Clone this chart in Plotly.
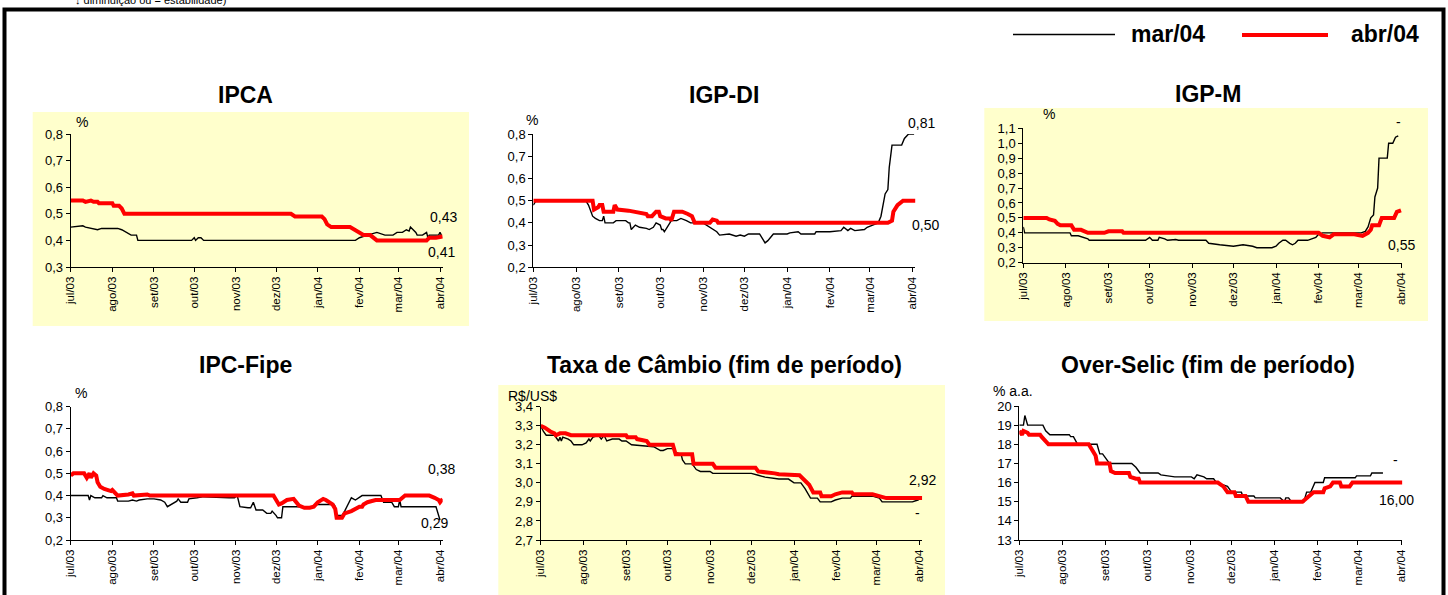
import plotly.graph_objects as go
from datetime import date

W, H = 1448, 595

months = ["2003-07-01", "2003-08-01", "2003-09-01", "2003-10-01", "2003-11-01",
          "2003-12-01", "2004-01-01", "2004-02-01", "2004-03-01", "2004-04-01"]
month_labels = ["jul/03", "ago/03", "set/03", "out/03", "nov/03",
                "dez/03", "jan/04", "fev/04", "mar/04", "abr/04"]

series_names = ["mar/04", "abr/04"]

# ---------------- IPCA ----------------
ipca_mar_d = ["2003-07-01", "2003-07-10", "2003-07-12", "2003-07-21", "2003-07-24", "2003-08-05", "2003-08-08",
              "2003-08-11", "2003-08-15", "2003-08-19", "2003-08-20", "2003-09-29", "2003-10-01", "2003-10-02",
              "2003-10-04", "2003-10-06", "2003-10-08", "2004-01-29", "2004-02-01", "2004-02-07", "2004-02-14",
              "2004-02-20", "2004-02-26", "2004-02-29", "2004-03-04", "2004-03-07", "2004-03-09", "2004-03-10",
              "2004-03-14", "2004-03-15", "2004-03-19", "2004-03-22", "2004-03-23", "2004-03-24", "2004-03-31",
              "2004-04-01", "2004-04-02"]
ipca_mar_v = [0.45, 0.455, 0.45, 0.44, 0.445, 0.445, 0.44,
              0.43, 0.42, 0.42, 0.40, 0.40, 0.41, 0.40,
              0.41, 0.41, 0.40, 0.40, 0.41, 0.42, 0.43,
              0.42, 0.42, 0.43, 0.43, 0.44, 0.435, 0.45,
              0.43, 0.42, 0.42, 0.43, 0.41, 0.42, 0.42,
              0.43, 0.42]
ipca_abr_d = ["2003-07-01", "2003-07-10", "2003-07-12", "2003-07-16", "2003-07-18", "2003-07-21", "2003-07-22",
              "2003-08-01", "2003-08-02", "2003-08-06", "2003-08-08", "2003-08-10", "2003-12-12", "2003-12-15",
              "2004-01-04", "2004-01-06", "2004-01-08", "2004-01-11", "2004-01-25", "2004-01-28", "2004-02-01",
              "2004-02-04", "2004-02-09", "2004-02-12", "2004-02-14", "2004-03-22", "2004-03-24", "2004-03-29",
              "2004-04-03"]
ipca_abr_v = [0.55, 0.55, 0.545, 0.55, 0.545, 0.545, 0.54,
              0.54, 0.53, 0.53, 0.52, 0.50, 0.50, 0.49,
              0.49, 0.48, 0.46, 0.45, 0.45, 0.44, 0.43,
              0.42, 0.42, 0.41, 0.40, 0.40, 0.41, 0.41,
              0.415]

# ---------------- IGP-DI ----------------
igpdi_mar_d = ["2003-07-01", "2003-07-03", "2003-08-08", "2003-08-10", "2003-08-13", "2003-08-15", "2003-08-18",
               "2003-08-20", "2003-08-21", "2003-08-22", "2003-08-28", "2003-08-30", "2003-09-06", "2003-09-08",
               "2003-09-09", "2003-09-10", "2003-09-13", "2003-09-16", "2003-09-21", "2003-09-23", "2003-09-26",
               "2003-09-28", "2003-10-01", "2003-10-02", "2003-10-03", "2003-10-04", "2003-10-06", "2003-10-07",
               "2003-10-09", "2003-10-13", "2003-10-16", "2003-10-20", "2003-10-23", "2003-11-01", "2003-11-06",
               "2003-11-11", "2003-11-13", "2003-11-20", "2003-11-25", "2003-11-28", "2003-12-01", "2003-12-04",
               "2003-12-12", "2003-12-15", "2003-12-16", "2003-12-18", "2003-12-22", "2004-01-01", "2004-01-03",
               "2004-01-09", "2004-01-11", "2004-01-21", "2004-01-22", "2004-02-01", "2004-02-09", "2004-02-11",
               "2004-02-14", "2004-02-16", "2004-02-19", "2004-02-26", "2004-02-28", "2004-03-03", "2004-03-07",
               "2004-03-09", "2004-03-12", "2004-03-14", "2004-03-15", "2004-03-17", "2004-03-24", "2004-03-26",
               "2004-03-29", "2004-04-02"]
igpdi_mar_v = [0.48, 0.50, 0.50, 0.48, 0.43, 0.42, 0.41,
               0.41, 0.43, 0.40, 0.40, 0.41, 0.41, 0.40,
               0.40, 0.37, 0.39, 0.38, 0.375, 0.37, 0.38,
               0.40, 0.39, 0.37, 0.37, 0.36, 0.38, 0.39,
               0.41, 0.41, 0.42, 0.41, 0.40, 0.40, 0.38,
               0.36, 0.345, 0.35, 0.34, 0.345, 0.34, 0.35,
               0.35, 0.32, 0.31, 0.32, 0.35, 0.35, 0.355,
               0.36, 0.35, 0.35, 0.36, 0.36, 0.365, 0.38,
               0.365, 0.375, 0.365, 0.37, 0.38, 0.39, 0.40,
               0.43, 0.53, 0.55, 0.65, 0.75, 0.75, 0.78,
               0.80, 0.80]
igpdi_abr_d = ["2003-07-01", "2003-08-13", "2003-08-14", "2003-08-17", "2003-08-18", "2003-08-20", "2003-08-21",
               "2003-08-28", "2003-08-29", "2003-08-31", "2003-09-08", "2003-09-13", "2003-09-16", "2003-09-21",
               "2003-09-22", "2003-09-25", "2003-09-28", "2003-09-30", "2003-10-01", "2003-10-05", "2003-10-08",
               "2003-10-09", "2003-10-11", "2003-10-17", "2003-10-21", "2003-10-24", "2003-10-26", "2003-11-06",
               "2003-11-08", "2003-11-11", "2003-11-12", "2004-03-14", "2004-03-17", "2004-03-18", "2004-03-21",
               "2004-03-25", "2004-04-03"]
igpdi_abr_v = [0.50, 0.50, 0.46, 0.47, 0.48, 0.48, 0.45,
               0.45, 0.48, 0.46, 0.455, 0.45, 0.445, 0.44,
               0.43, 0.43, 0.45, 0.45, 0.43, 0.42, 0.42,
               0.41, 0.45, 0.45, 0.44, 0.43, 0.40, 0.40,
               0.415, 0.41, 0.40, 0.40, 0.41, 0.45, 0.48,
               0.50, 0.50]

# ---------------- IGP-M ----------------
igpm_mar_d = ["2003-07-01", "2003-07-02", "2003-08-04", "2003-08-05", "2003-08-10", "2003-08-14", "2003-08-17",
              "2003-08-18", "2003-09-28", "2003-10-01", "2003-10-03", "2003-10-07", "2003-10-08", "2003-10-12",
              "2003-10-14", "2003-10-20", "2003-10-22", "2003-11-11", "2003-11-13", "2003-11-21", "2003-11-28",
              "2003-12-01", "2003-12-08", "2003-12-15", "2003-12-18", "2003-12-29", "2004-01-01", "2004-01-03",
              "2004-01-06", "2004-01-08", "2004-01-11", "2004-01-13", "2004-01-15", "2004-01-17", "2004-01-24",
              "2004-01-27", "2004-01-30", "2004-02-01", "2004-02-04", "2004-03-03", "2004-03-06", "2004-03-08",
              "2004-03-10", "2004-03-12", "2004-03-13", "2004-03-14", "2004-03-15", "2004-03-16", "2004-03-22",
              "2004-03-23", "2004-03-26", "2004-03-28", "2004-03-30"]
igpm_mar_v = [0.44, 0.40, 0.40, 0.38, 0.38, 0.37, 0.36,
              0.35, 0.35, 0.37, 0.35, 0.35, 0.37, 0.36,
              0.35, 0.355, 0.35, 0.35, 0.33, 0.32, 0.31,
              0.31, 0.32, 0.31, 0.30, 0.30, 0.31, 0.33,
              0.35, 0.35, 0.33, 0.32, 0.33, 0.35, 0.35,
              0.36, 0.37, 0.39, 0.40, 0.40, 0.41, 0.44,
              0.50, 0.52, 0.64, 0.67, 0.70, 0.90, 0.90,
              1.00, 1.00, 1.04, 1.05]
igpm_abr_d = ["2003-07-01", "2003-07-18", "2003-07-20", "2003-07-24", "2003-07-26", "2003-07-28", "2003-08-05",
              "2003-08-07", "2003-08-12", "2003-08-14", "2003-08-17", "2003-08-29", "2003-09-01", "2003-09-11",
              "2003-09-12", "2004-02-01", "2004-02-04", "2004-02-09", "2004-02-12", "2004-02-27", "2004-03-01",
              "2004-03-04", "2004-03-08", "2004-03-10", "2004-03-11", "2004-03-16", "2004-03-18", "2004-03-27",
              "2004-03-29", "2004-04-01"]
igpm_abr_v = [0.50, 0.50, 0.49, 0.48, 0.46, 0.45, 0.45,
              0.42, 0.42, 0.41, 0.40, 0.40, 0.41, 0.41,
              0.40, 0.40, 0.38, 0.37, 0.39, 0.39, 0.385,
              0.38, 0.40, 0.42, 0.45, 0.45, 0.50, 0.50,
              0.54, 0.55]

# ---------------- IPC-Fipe ----------------
fipe_mar_d = ["2003-07-01", "2003-07-14", "2003-07-15", "2003-07-16", "2003-07-19", "2003-07-24", "2003-07-25",
              "2003-07-28", "2003-08-04", "2003-08-05", "2003-08-13", "2003-08-16", "2003-08-19", "2003-08-21",
              "2003-08-27", "2003-09-01", "2003-09-06", "2003-09-09", "2003-09-11", "2003-09-14", "2003-09-16",
              "2003-09-18", "2003-09-19", "2003-09-21", "2003-09-26", "2003-09-27", "2003-10-03", "2003-10-08",
              "2003-10-27", "2003-10-31", "2003-11-02", "2003-11-04", "2003-11-10", "2003-11-12", "2003-11-14",
              "2003-11-16", "2003-11-21", "2003-11-24", "2003-11-27", "2003-11-28", "2003-12-01", "2003-12-02",
              "2003-12-05", "2003-12-06", "2003-12-28", "2003-12-31", "2004-01-13", "2004-01-14", "2004-01-15",
              "2004-01-19", "2004-01-21", "2004-01-24", "2004-01-26", "2004-01-29", "2004-02-01", "2004-02-03",
              "2004-02-17", "2004-02-18", "2004-02-19", "2004-02-25", "2004-02-27", "2004-03-01", "2004-03-02",
              "2004-03-03", "2004-03-29", "2004-04-01"]
fipe_mar_v = [0.40, 0.40, 0.38, 0.40, 0.39, 0.39, 0.40,
              0.39, 0.39, 0.375, 0.375, 0.38, 0.375, 0.38,
              0.385, 0.385, 0.38, 0.37, 0.35, 0.36, 0.37,
              0.375, 0.385, 0.37, 0.37, 0.385, 0.39, 0.395,
              0.39, 0.39, 0.40, 0.35, 0.345, 0.345, 0.37,
              0.335, 0.335, 0.32, 0.32, 0.33, 0.31, 0.30,
              0.30, 0.35, 0.35, 0.36, 0.36, 0.35, 0.31,
              0.31, 0.33, 0.37, 0.39, 0.38, 0.39, 0.40,
              0.40, 0.38, 0.37, 0.37, 0.35, 0.35, 0.38,
              0.35, 0.35, 0.29]
fipe_abr_d = ["2003-07-01", "2003-07-03", "2003-07-11", "2003-07-13", "2003-07-15", "2003-07-16", "2003-07-18",
              "2003-07-20", "2003-07-21", "2003-07-23", "2003-07-26", "2003-07-31", "2003-08-01", "2003-08-03",
              "2003-08-05", "2003-08-13", "2003-08-16", "2003-08-17", "2003-08-27", "2003-08-29", "2003-11-29",
              "2003-12-01", "2003-12-03", "2003-12-05", "2003-12-09", "2003-12-14", "2003-12-16", "2003-12-18",
              "2003-12-22", "2003-12-26", "2003-12-29", "2004-01-01", "2004-01-05", "2004-01-07", "2004-01-12",
              "2004-01-14", "2004-01-15", "2004-01-19", "2004-01-21", "2004-01-26", "2004-02-01", "2004-02-03",
              "2004-02-04", "2004-02-07", "2004-02-13", "2004-03-02", "2004-03-06", "2004-03-24", "2004-03-28",
              "2004-03-31", "2004-04-01", "2004-04-03"]
fipe_abr_v = [0.49, 0.50, 0.50, 0.48, 0.50, 0.48, 0.50,
              0.49, 0.46, 0.44, 0.43, 0.42, 0.425, 0.41,
              0.40, 0.405, 0.41, 0.40, 0.405, 0.40, 0.40,
              0.38, 0.36, 0.365, 0.38, 0.385, 0.37, 0.355,
              0.345, 0.345, 0.35, 0.37, 0.385, 0.38, 0.36,
              0.34, 0.30, 0.30, 0.32, 0.33, 0.35, 0.35,
              0.36, 0.37, 0.38, 0.38, 0.40, 0.40, 0.39,
              0.38, 0.37, 0.385]

# ---------------- Taxa de Câmbio ----------------
cambio_mar_d = ["2003-07-01", "2003-07-03", "2003-07-05", "2003-07-11", "2003-07-14", "2003-07-15", "2003-07-16",
                "2003-07-17", "2003-07-21", "2003-07-23", "2003-07-25", "2003-07-31", "2003-08-03", "2003-08-05",
                "2003-08-06", "2003-08-08", "2003-08-12", "2003-08-14", "2003-08-16", "2003-08-18", "2003-08-22",
                "2003-08-27", "2003-08-29", "2003-09-01", "2003-09-05", "2003-09-21", "2003-09-26", "2003-09-28",
                "2003-10-01", "2003-10-05", "2003-10-07", "2003-10-11", "2003-10-12", "2003-10-14", "2003-10-19",
                "2003-10-22", "2003-10-25", "2003-11-01", "2003-11-03", "2003-12-01", "2003-12-06", "2003-12-11",
                "2003-12-21", "2003-12-28", "2004-01-01", "2004-01-06", "2004-01-09", "2004-01-13", "2004-01-18",
                "2004-01-20", "2004-01-28", "2004-01-31", "2004-02-05", "2004-02-11", "2004-02-12", "2004-02-27",
                "2004-03-03", "2004-03-05", "2004-03-27", "2004-03-31", "2004-04-02"]
cambio_mar_v = [3.30, 3.27, 3.25, 3.25, 3.22, 3.24, 3.22,
                3.24, 3.23, 3.22, 3.20, 3.20, 3.21, 3.23,
                3.22, 3.24, 3.25, 3.23, 3.25, 3.22, 3.23,
                3.23, 3.22, 3.22, 3.20, 3.19, 3.17, 3.17,
                3.18, 3.18, 3.16, 3.15, 3.12, 3.10, 3.10,
                3.07, 3.06, 3.06, 3.05, 3.05, 3.04, 3.03,
                3.02, 3.02, 3.00, 3.00, 2.97, 2.92, 2.92,
                2.90, 2.90, 2.91, 2.92, 2.92, 2.93, 2.93,
                2.92, 2.90, 2.90, 2.91, 2.92]
cambio_abr_d = ["2003-07-01", "2003-07-04", "2003-07-08", "2003-07-11", "2003-07-12", "2003-07-15", "2003-07-19",
                "2003-07-23", "2003-09-01", "2003-09-02", "2003-09-08", "2003-09-09", "2003-09-16", "2003-09-18",
                "2003-10-05", "2003-10-07", "2003-10-19", "2003-10-20", "2003-11-03", "2003-11-05", "2003-12-04",
                "2003-12-06", "2003-12-18", "2003-12-21", "2004-01-05", "2004-01-08", "2004-01-12", "2004-01-15",
                "2004-01-20", "2004-01-21", "2004-01-28", "2004-01-31", "2004-02-05", "2004-02-12", "2004-02-13",
                "2004-02-27", "2004-03-04", "2004-03-08", "2004-04-04"]
cambio_abr_v = [3.30, 3.29, 3.27, 3.26, 3.25, 3.26, 3.26,
                3.25, 3.25, 3.24, 3.24, 3.23, 3.22, 3.20,
                3.20, 3.15, 3.15, 3.10, 3.10, 3.08, 3.08,
                3.06, 3.05, 3.045, 3.04, 3.02, 2.99, 2.95,
                2.95, 2.93, 2.93, 2.94, 2.95, 2.95, 2.94,
                2.94, 2.93, 2.92, 2.92]

# ---------------- Over-Selic ----------------
selic_mar_d = ["2003-07-01", "2003-07-04", "2003-07-05", "2003-07-07", "2003-07-18", "2003-07-20", "2003-07-23",
               "2003-08-06", "2003-08-07", "2003-08-09", "2003-08-12", "2003-08-26", "2003-08-28", "2003-08-30",
               "2003-09-02", "2003-09-04", "2003-09-20", "2003-09-23", "2003-09-26", "2003-10-09", "2003-10-11",
               "2003-10-21", "2003-11-02", "2003-11-04", "2003-11-06", "2003-11-11", "2003-11-13", "2003-11-18",
               "2003-11-20", "2003-11-28", "2003-12-01", "2003-12-08", "2003-12-09", "2003-12-17", "2003-12-18",
               "2004-01-05", "2004-01-08", "2004-01-09", "2004-01-11", "2004-01-13", "2004-01-22", "2004-01-24",
               "2004-01-27", "2004-01-30", "2004-02-05", "2004-02-06", "2004-02-28", "2004-02-29", "2004-03-10",
               "2004-03-11", "2004-03-19"]
selic_mar_v = [19.0, 19.0, 19.5, 19.0, 19.0, 18.7, 18.5,
               18.5, 18.4, 18.4, 18.0, 18.0, 17.5, 17.5,
               17.2, 17.0, 17.0, 16.8, 16.5, 16.5, 16.4,
               16.3, 16.3, 16.2, 16.4, 16.3, 16.2, 16.2,
               16.0, 15.8, 15.5, 15.5, 15.3, 15.3, 15.2,
               15.2, 15.0, 15.2, 15.2, 15.0, 15.0, 15.5,
               15.5, 16.0, 16.0, 16.25, 16.25, 16.35, 16.35,
               16.5, 16.5]
selic_abr_d = ["2003-07-01", "2003-07-03", "2003-07-04", "2003-07-07", "2003-07-08", "2003-07-16", "2003-07-17",
               "2003-07-20", "2003-07-22", "2003-08-20", "2003-08-23", "2003-08-25", "2003-08-26", "2003-09-04",
               "2003-09-05", "2003-09-08", "2003-09-18", "2003-09-19", "2003-09-23", "2003-09-25", "2003-09-26",
               "2003-11-21", "2003-11-25", "2003-11-28", "2003-12-03", "2003-12-04", "2003-12-11", "2003-12-13",
               "2004-01-21", "2004-01-24", "2004-01-29", "2004-02-05", "2004-02-06", "2004-02-10", "2004-02-12",
               "2004-02-17", "2004-02-18", "2004-02-24", "2004-02-26", "2004-04-02"]
selic_abr_v = [18.7, 18.5, 18.7, 18.6, 18.5, 18.5, 18.4,
               18.2, 18.0, 18.0, 17.6, 17.4, 17.0, 17.0,
               16.6, 16.5, 16.5, 16.3, 16.2, 16.2, 16.0,
               16.0, 15.8, 15.5, 15.5, 15.3, 15.3, 15.0,
               15.0, 15.2, 15.5, 15.5, 15.7, 15.8, 16.0,
               16.0, 15.8, 15.8, 16.0, 16.0]

titles = ["IPCA", "IGP-DI", "IGP-M", "IPC-Fipe", "Taxa de Câmbio (fim de período)", "Over-Selic (fim de período)"]
units = ["%", "%", "%", "%", "R$/US$", "% a.a."]
end_labels = [["0,43", "0,41"], ["0,81", "0,50"], ["-", "0,55"], ["0,29", "0,38"], ["-", "2,92"], ["-", "16,00"]]
top_note = "↓ diminuição ou = estabilidade)"

data = [
    (ipca_mar_d, ipca_mar_v, ipca_abr_d, ipca_abr_v),
    (igpdi_mar_d, igpdi_mar_v, igpdi_abr_d, igpdi_abr_v),
    (igpm_mar_d, igpm_mar_v, igpm_abr_d, igpm_abr_v),
    (fipe_mar_d, fipe_mar_v, fipe_abr_d, fipe_abr_v),
    (cambio_mar_d, cambio_mar_v, cambio_abr_d, cambio_abr_v),
    (selic_mar_d, selic_mar_v, selic_abr_d, selic_abr_v),
]

# ---------------- layout geometry (pixels) ----------------
layout_px = [
    dict(x0=70.7, xa=440.0, end="2004-04-03", ytop=134.0, ybot=267.0, yr=[0.3, 0.8], dt=0.1, fmt=".1f",
         title=(245, 95), unit=(82, 122), labels=[(443, 217), (441, 252)], bg=(32.7, 112, 469, 326)),
    dict(x0=533.3, xa=912.7, end="2004-04-03", ytop=134.0, ybot=267.3, yr=[0.2, 0.8], dt=0.1, fmt=".1f",
         title=(724, 95), unit=(532, 120), labels=[(921.5, 123), (925, 225)], bg=None),
    dict(x0=1023.3, xa=1401.0, end="2004-04-02", ytop=128.3, ybot=262.7, yr=[0.2, 1.1], dt=0.1, fmt=".1f",
         title=(1208, 93.5), unit=(1049, 114.5), labels=[(1398.5, 122), (1401.5, 244.5)], bg=(984.3, 108, 1428, 321)),
    dict(x0=70.7, xa=440.0, end="2004-04-03", ytop=406.7, ybot=540.0, yr=[0.2, 0.8], dt=0.1, fmt=".1f",
         title=(245, 365), unit=(81, 393), labels=[(434, 523), (441.5, 469)], bg=None),
    dict(x0=540.7, xa=919.3, end="2004-04-03", ytop=406.7, ybot=540.0, yr=[2.7, 3.4], dt=0.1, fmt=".1f",
         title=(724, 365), unit=(532.5, 396), labels=[(917.7, 513), (922.5, 480)], bg=(498.3, 385, 945, 600)),
    dict(x0=1019.3, xa=1401.0, end="2004-04-02", ytop=406.0, ybot=540.0, yr=[13, 20], dt=1, fmt="d",
         title=(1208, 365), unit=(1012.5, 390.5), labels=[(1395.7, 460), (1396, 500)], bg=None),
]

FONT = "Arial, Liberation Sans, sans-serif"


def dn(s):
    return date.fromisoformat(s).toordinal()


def px(x):
    return x / W


def py(y):
    return 1 - y / H


fig = go.Figure()
layout = dict(
    width=W, height=H, autosize=False,
    margin=dict(l=0, r=0, t=0, b=0, pad=0, autoexpand=False),
    paper_bgcolor="white", plot_bgcolor="rgba(0,0,0,0)",
    separators=",.",
    font=dict(family=FONT, color="black"),
    showlegend=False,
    # cut-off note at the very top edge of the page
    title=dict(text=top_note, xref="container", yref="container", x=75 / W, xanchor="left",
               y=1, yanchor="middle", pad=dict(t=0, b=0, l=0, r=0),
               font=dict(size=11, family=FONT, color="black")),
)
shapes = []
annotations = []

jul = dn(months[0])
abr = dn(months[-1])

for i, (geo, (md, mv, ad, av)) in enumerate(zip(layout_px, data)):
    k = "" if i == 0 else str(i + 1)
    right = geo["x0"] + (dn(geo["end"]) - jul) / (abr - jul) * (geo["xa"] - geo["x0"])
    layout["xaxis" + k] = dict(
        type="date", range=[months[0], geo["end"]], domain=[px(geo["x0"]), px(right)],
        anchor="y" + k, tickmode="array", tickvals=months, ticktext=month_labels,
        tickangle=-90, tickfont=dict(size=11.5, family=FONT, color="black"), automargin=False,
        showline=True, linecolor="black", linewidth=1, ticks="outside", ticklen=4,
        tickcolor="black", showgrid=False, zeroline=False, fixedrange=True,
    )
    layout["yaxis" + k] = dict(
        range=geo["yr"], domain=[py(geo["ybot"]), py(geo["ytop"])], anchor="x" + k,
        tick0=geo["yr"][0], dtick=geo["dt"], tickformat=geo["fmt"], automargin=False,
        tickfont=dict(size=13, family=FONT, color="black"),
        showline=True, linecolor="black", linewidth=1, ticks="outside", ticklen=4,
        tickcolor="black", showgrid=False, zeroline=False, fixedrange=True,
    )
    fig.add_trace(go.Scatter(x=md, y=mv, mode="lines", name=series_names[0],
                             line=dict(color="black", width=1.4),
                             xaxis="x" + k, yaxis="y" + k, hoverinfo="skip"))
    fig.add_trace(go.Scatter(x=ad, y=av, mode="lines", name=series_names[1],
                             line=dict(color="#FF0000", width=4),
                             xaxis="x" + k, yaxis="y" + k, hoverinfo="skip"))
    if geo["bg"]:
        bx0, by0, bx1, by1 = geo["bg"]
        shapes.append(dict(type="rect", xref="paper", yref="paper", layer="below",
                           x0=px(bx0), x1=px(bx1), y0=py(by1), y1=py(by0),
                           fillcolor="#FFFFCC", line=dict(width=0)))
    annotations.append(dict(text="<b>%s</b>" % titles[i], x=px(geo["title"][0]), y=py(geo["title"][1]),
                            xref="paper", yref="paper", showarrow=False, xanchor="center", yanchor="middle",
                            font=dict(size=23, family=FONT, color="black")))
    annotations.append(dict(text=units[i], x=px(geo["unit"][0]), y=py(geo["unit"][1]),
                            xref="paper", yref="paper", showarrow=False, xanchor="center", yanchor="middle",
                            font=dict(size=14, family=FONT, color="black")))
    for lab, (lx, ly) in zip(end_labels[i], geo["labels"]):
        annotations.append(dict(text=lab, x=px(lx), y=py(ly), xref="paper", yref="paper",
                                showarrow=False, xanchor="center", yanchor="middle",
                                font=dict(size=14, family=FONT, color="black")))

# outer frame
shapes.append(dict(type="rect", xref="paper", yref="paper", layer="above",
                   x0=px(4.5), x1=px(1443.5), y0=py(640), y1=py(9.5),
                   line=dict(color="black", width=4), fillcolor="rgba(0,0,0,0)"))

# legend (drawn manually)
shapes.append(dict(type="line", xref="paper", yref="paper", x0=px(1013), x1=px(1115), y0=py(34.5), y1=py(34.5),
                   line=dict(color="black", width=1.5)))
shapes.append(dict(type="line", xref="paper", yref="paper", x0=px(1242), x1=px(1328), y0=py(35), y1=py(35),
                   line=dict(color="#FF0000", width=4)))
annotations.append(dict(text="<b>%s</b>" % series_names[0], x=px(1168), y=py(34), xref="paper", yref="paper",
                        showarrow=False, xanchor="center", yanchor="middle",
                        font=dict(size=23, family=FONT, color="black")))
annotations.append(dict(text="<b>%s</b>" % series_names[1], x=px(1385), y=py(34), xref="paper", yref="paper",
                        showarrow=False, xanchor="center", yanchor="middle",
                        font=dict(size=23, family=FONT, color="black")))

layout["shapes"] = shapes
layout["annotations"] = annotations
fig.update_layout(**layout)
fig.write_html("out.html", config={"displayModeBar": False},
               post_script="document.body.style.margin='0';document.body.style.padding='0';"
                           "document.body.style.overflow='hidden';")
